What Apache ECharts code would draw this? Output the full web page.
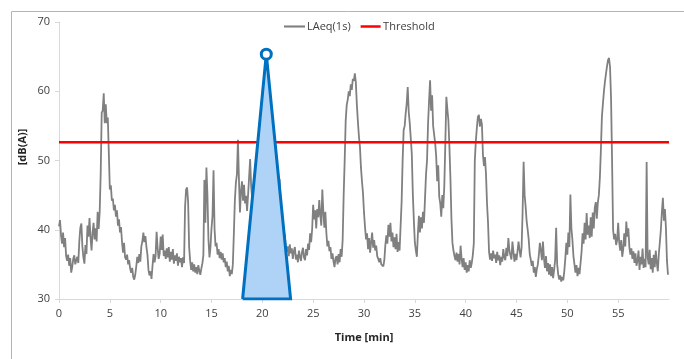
<!DOCTYPE html>
<html>
<head>
<meta charset="utf-8">
<script src="https://cdn.jsdelivr.net/npm/echarts@6/dist/echarts.min.js"></script>
<style>html,body{margin:0;padding:0;background:#fff;}#c{width:684px;height:359px;}</style>
</head>
<body>
<div id="c"></div>
<script>
// LAeq(1s) values sampled every 0.1 min (one row per minute)
const laeq = [
40.5,41.4,39.2,38.0,39.6,37.5,38.8,36.2,35.5,36.4,
34.8,35.9,33.8,34.6,35.8,36.3,35.0,35.6,36.1,35.2,
38.4,40.3,40.9,37.6,36.0,35.1,37.8,36.5,40.6,39.0,
41.7,38.9,37.0,39.5,41.0,38.6,40.2,38.3,42.6,40.1,
42.5,48.0,56.9,57.2,59.7,55.4,58.1,55.4,56.2,51.1,
45.8,46.4,44.2,44.5,42.8,43.6,41.9,42.8,40.6,41.5,
39.6,40.4,38.2,36.7,38.1,36.0,35.7,36.4,35.0,35.6,
34.4,33.8,34.5,33.2,32.8,33.5,34.7,36.1,35.2,36.5,
35.4,37.6,38.3,39.6,38.2,39.1,37.5,36.4,34.2,33.4,
34.0,32.9,34.8,36.5,35.3,36.2,39.7,37.4,35.8,36.5,
39.0,37.1,39.3,36.2,37.0,35.8,37.3,36.0,37.5,35.4,
36.8,35.7,37.2,35.1,36.3,35.5,36.6,34.8,36.1,35.3,
35.9,34.6,36.0,35.2,43.3,45.8,46.1,44.0,37.5,35.5,
34.2,35.3,34.0,35.0,33.8,34.6,33.6,34.9,34.1,33.5,
34.4,35.1,36.3,47.2,41.0,49.0,45.0,38.6,36.0,37.5,
40.2,42.0,48.6,40.1,37.6,38.1,36.4,37.2,35.9,36.8,
35.7,36.6,35.3,35.9,34.6,35.4,34.0,34.8,33.3,34.2,
33.6,35.0,39.5,44.3,46.8,48.0,53.0,47.2,42.5,45.6,
47.0,44.2,46.5,43.8,44.9,42.7,45.1,47.6,50.2,46.3,
44.5,42.8,45.0,43.6,41.9,44.2,42.5,43.8,41.6,43.0,
41.8,43.5,40.9,42.6,44.1,42.0,43.2,41.5,44.6,45.9,
48.4,50.7,53.4,51.5,47.2,49.0,45.8,47.3,43.5,41.2,
40.0,38.6,39.4,37.5,36.8,37.6,36.2,37.9,36.6,37.3,
35.8,36.9,37.5,35.7,36.4,35.3,37.0,36.1,35.5,36.8,
37.4,36.0,35.6,37.2,36.3,38.0,37.1,39.5,38.2,40.1,
43.6,41.5,42.8,40.2,43.0,41.8,44.3,42.1,40.6,45.8,
42.6,40.3,42.6,39.5,37.6,38.4,36.9,37.5,35.8,36.6,
35.4,34.6,35.9,36.2,35.0,36.5,35.3,37.2,36.1,38.5,
45.0,50.0,55.8,58.0,58.8,60.0,59.3,61.0,60.2,61.8,
61.5,62.6,61.2,58.0,55.6,53.5,52.0,49.0,47.0,45.3,
42.5,40.4,38.6,39.5,37.2,38.8,36.7,38.2,39.6,37.4,
38.5,37.0,37.7,36.2,35.8,35.3,35.9,35.0,34.8,34.7,
35.6,37.8,39.2,38.0,40.7,39.0,41.0,38.3,39.6,37.5,
38.9,37.2,39.4,36.8,38.2,37.0,40.5,44.0,50.0,54.4,
55.0,56.8,58.2,60.6,57.0,55.4,53.2,51.0,45.3,41.5,
38.2,37.0,36.1,39.4,42.0,39.6,41.8,40.2,42.6,41.0,
44.5,48.0,50.0,55.3,58.6,61.6,57.2,59.4,55.0,54.9,
52.5,50.6,47.0,49.3,44.8,43.8,41.9,45.0,43.1,46.4,
52.5,59.2,57.4,55.8,52.0,47.5,41.6,38.1,37.0,36.2,
35.6,36.7,35.4,36.5,35.0,37.7,35.8,34.6,35.9,34.2,
35.3,33.8,34.9,34.0,35.6,34.5,35.2,36.3,38.0,50.0,
52.8,54.7,56.3,56.6,54.9,56.0,55.2,50.8,49.2,50.5,
48.0,43.8,41.0,36.8,35.7,36.6,35.5,37.0,35.9,36.4,
35.2,36.8,35.6,36.3,34.9,36.1,35.4,37.2,36.0,35.6,
37.4,36.2,38.8,37.0,36.3,35.7,38.3,36.8,35.4,36.5,
35.6,36.9,38.3,37.1,36.0,37.4,42.5,49.8,45.0,43.3,
41.2,40.0,38.6,36.5,35.7,34.8,35.5,33.8,34.6,33.2,
34.3,35.0,36.4,38.1,37.0,35.6,38.3,35.9,34.5,36.2,
34.0,35.2,33.5,35.0,33.3,34.6,33.0,34.2,35.6,40.3,
35.0,33.6,32.8,33.4,32.5,33.2,32.7,34.0,35.8,38.1,
36.4,39.6,37.5,45.1,40.2,38.5,36.2,35.0,33.8,34.9,
33.3,34.5,33.6,35.2,36.8,39.5,38.0,41.0,38.6,42.4,
39.3,40.6,38.8,41.8,39.0,42.5,40.2,43.2,44.0,41.6,
43.9,45.0,47.5,51.5,56.3,58.2,60.0,61.4,62.5,63.6,
64.5,64.8,63.5,59.0,50.0,40.0,38.6,39.4,37.8,38.5,
41.0,38.2,37.0,38.5,36.1,37.2,39.5,37.6,41.2,39.0,
40.2,37.5,36.4,37.3,35.8,36.9,35.2,36.6,34.8,35.5,
37.0,34.2,36.1,35.0,37.3,34.5,35.8,34.6,49.8,36.0,
35.0,37.1,34.3,35.9,33.8,36.4,34.6,37.0,35.2,34.0,
36.5,38.2,40.0,42.6,44.6,41.3,43.0,40.2,35.5,33.5
];
const STEP_MIN = 0.1;
const thresholdX = [0, 60];
const thresholdY = [52.65, 52.65];
const triangleX = [18.06, 20.39, 22.78, 18.06];
const triangleY = [30, 65.35, 30, 30];
const xTicks = [0, 5, 10, 15, 20, 25, 30, 35, 40, 45, 50, 55, 60];
const yTicks = [30, 40, 50, 60, 70];

const laeqData = laeq.map((v, i) => [Math.round(i * STEP_MIN * 10) / 10, v]);
const thrData = thresholdX.map((x, i) => [x, thresholdY[i]]);
const triData = triangleX.map((x, i) => {
  const d = { value: [x, triangleY[i]] };
  if (i === 1) {
    d.symbol = 'circle';
    d.symbolSize = 10;
    d.itemStyle = { color: '#ffffff', borderColor: '#0070c0', borderWidth: 3 };
  }
  return d;
});

const FONT = 'Open Sans';
const chart = echarts.init(document.getElementById('c'), null, { renderer: 'canvas' });
chart.setOption({
  animation: false,
  backgroundColor: '#ffffff',
  textStyle: { fontFamily: FONT },
  grid: { left: 59, right: 15, top: 22, bottom: 60 },
  legend: {
    data: [
      { name: 'LAeq(1s)', icon: 'path://M0,0 L20,0 L20,2 L0,2 Z', itemStyle: { color: '#808080' } },
      { name: 'Threshold', icon: 'path://M0,0 L20,0 L20,2.5 L0,2.5 Z', itemStyle: { color: '#ff0000' } }
    ],
    left: 279, top: 16,
    itemWidth: 21, itemHeight: 2.5, itemGap: 10,
    textStyle: { fontFamily: FONT, fontSize: 11, color: '#404040', padding: [0, 0, 0, -3] }
  },
  xAxis: {
    type: 'value', min: xTicks[0], max: xTicks[xTicks.length - 1], interval: 5,
    name: 'Time [min]', nameLocation: 'middle', nameGap: 33,
    nameTextStyle: { fontFamily: FONT, fontSize: 11, fontWeight: 'bold', color: '#262626' },
    axisLine: { lineStyle: { color: '#d9d9d9', width: 1 } },
    axisTick: { show: true, length: 4, lineStyle: { color: '#d9d9d9' } },
    axisLabel: { showMaxLabel: false, fontFamily: FONT, fontSize: 11, color: '#404040', margin: 9 },
    splitLine: { show: false }
  },
  yAxis: {
    type: 'value', min: yTicks[0], max: yTicks[yTicks.length - 1], interval: 10,
    axisLine: { show: true, lineStyle: { color: '#d9d9d9', width: 1 } },
    axisTick: { show: true, length: 4, lineStyle: { color: '#d9d9d9' } },
    axisLabel: { fontFamily: FONT, fontSize: 11, color: '#404040', margin: 9 },
    splitLine: { show: false }
  },
  graphic: [
    { type: 'rect', left: 9, top: 9, shape: { width: 690, height: 360 }, style: { fill: null, stroke: '#b4b4b4', lineWidth: 1 }, z: -10 },
    { type: 'text', x: 23, y: 147, rotation: Math.PI / 2,
      style: { text: '[dB(A)]', fontFamily: FONT, fontSize: 11, fontWeight: 'bold', fill: '#262626', align: 'center', verticalAlign: 'middle' } }
  ],
  series: [
    { name: 'LAeq(1s)', type: 'line', data: laeqData, showSymbol: false, symbol: 'none',
      lineStyle: { color: '#808080', width: 1.8 }, itemStyle: { color: '#808080' }, z: 2 },
    { name: 'Threshold', type: 'line', data: thrData, showSymbol: false, symbol: 'none',
      lineStyle: { color: '#ff0000', width: 2.5 }, itemStyle: { color: '#ff0000' }, z: 3 },
    { name: 'triangle', type: 'line', data: triData, symbol: 'none', showAllSymbol: true,
      lineStyle: { color: '#0070c0', width: 3, join: 'miter' },
      areaStyle: { color: '#afd3f6', opacity: 1, origin: 'start' }, z: 4 }
  ]
});
</script>
</body>
</html>
